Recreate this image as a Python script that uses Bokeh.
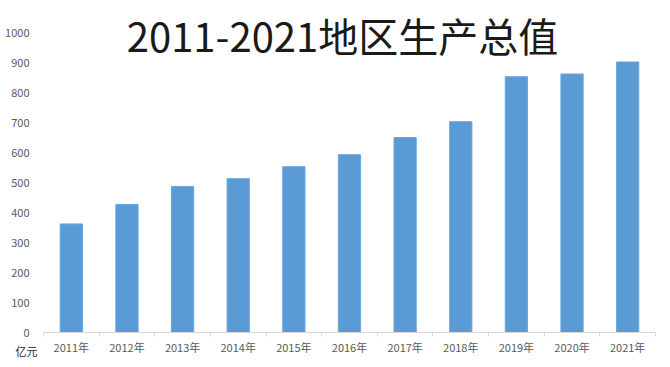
from bokeh.plotting import figure
from bokeh.models import Range1d, FixedTicker, Label, ColumnDataSource
from bokeh.embed import file_html
from bokeh.resources import INLINE

years = ["2011年", "2012年", "2013年", "2014年", "2015年", "2016年",
         "2017年", "2018年", "2019年", "2020年", "2021年"]
values = [362, 427, 487, 513, 553, 593, 650, 703, 853, 862, 902]
y_ticks = [0, 100, 200, 300, 400, 500, 600, 700, 800, 900, 1000]
title_text = "2011-2021地区生产总值"
unit_text = "亿元"

idx = list(range(len(years)))
n = len(years)

p = figure(width=662, height=359, output_backend="svg", toolbar_location=None,
           x_range=Range1d(-1.273, n - 0.374), y_range=Range1d(-90, 1107),
           min_border_left=0, min_border_right=0, min_border_top=0,
           min_border_bottom=0)
p.outline_line_color = None
p.background_fill_color = "white"
p.border_fill_color = "white"
p.xgrid.visible = False
p.ygrid.visible = False

src = ColumnDataSource(dict(x=idx, top=values))
p.vbar(x="x", top="top", width=0.4, bottom=0, source=src,
       fill_color="#5b9bd5", line_color="#6aa6dc", line_width=1)

# x axis, drawn at y = 0 inside the frame
p.xaxis.fixed_location = 0
p.xaxis.bounds = (-0.5, n - 0.5)
p.xaxis.ticker = FixedTicker(ticks=idx, minor_ticks=[i - 0.5 for i in idx] + [n - 0.5])
p.xaxis.major_label_overrides = {i: years[i] for i in idx}
p.xaxis.axis_line_color = "#d9d9d9"
p.xaxis.major_tick_line_color = None
p.xaxis.major_tick_out = 0
p.xaxis.major_tick_in = 0
p.xaxis.minor_tick_line_color = "#d9d9d9"
p.xaxis.minor_tick_out = 4
p.xaxis.minor_tick_in = 0
p.xaxis.major_label_text_color = "#595959"
p.xaxis.major_label_text_font = "Noto Sans CJK SC"
p.xaxis.major_label_text_font_size = "11px"
p.xaxis.major_label_standoff = 2

# y axis, drawn at the left edge of the categories
p.yaxis.fixed_location = -0.5
p.yaxis.ticker = FixedTicker(ticks=y_ticks)
p.yaxis.axis_line_color = None
p.yaxis.major_tick_line_color = None
p.yaxis.minor_tick_line_color = None
p.yaxis.major_label_text_color = "#595959"
p.yaxis.major_label_text_font = "Noto Sans CJK SC"
p.yaxis.major_label_text_font_size = "11px"
p.yaxis.major_label_standoff = 8

title = Label(x=(n - 1) / 2, y=1000, text=title_text, text_align="center",
              text_baseline="middle", x_offset=-7, y_offset=-2,
              text_font="Noto Sans CJK SC", text_font_size="40px",
              text_color="#1a1a1a")
p.add_layout(title)

unit = Label(x=-0.5, y=0, text=unit_text, text_align="right",
             text_baseline="middle", x_offset=-6, y_offset=-18,
             text_font="Noto Sans CJK SC", text_font_size="11px",
             text_color="#222222")
p.add_layout(unit)

open("out.html", "w").write(file_html(p, INLINE))
